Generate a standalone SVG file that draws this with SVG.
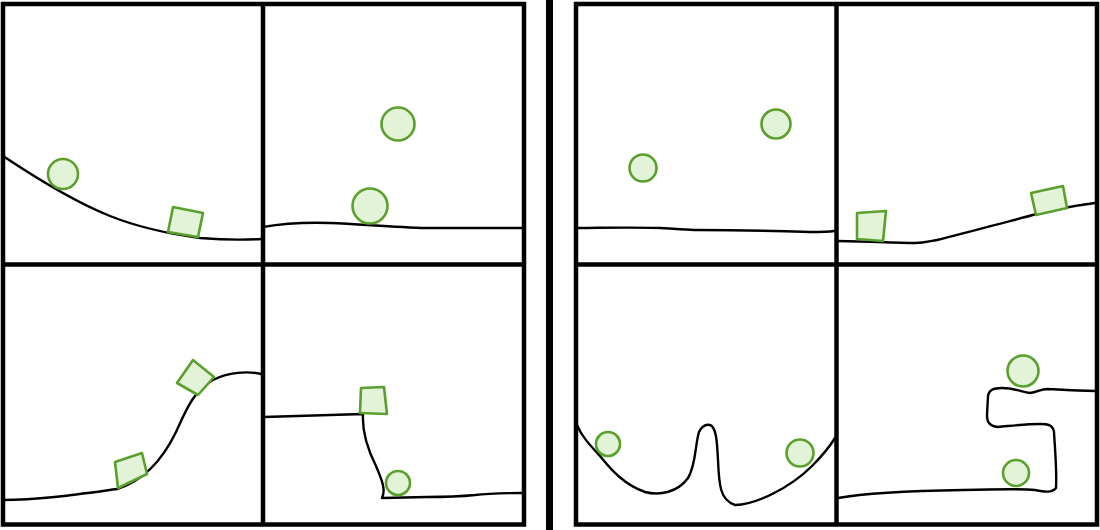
<svg xmlns="http://www.w3.org/2000/svg" width="1100" height="530" viewBox="0 0 1100 530">
<style>
.frame{fill:none;stroke:#000;stroke-width:4.5}
.ground{fill:none;stroke:#000;stroke-width:2.4;stroke-linejoin:round;stroke-linecap:round}
.body{fill:#e2f3d8;stroke:#5aa02c;stroke-width:2.6;stroke-linejoin:round}
</style>
<rect width="1100" height="530" fill="#fff"/>
<g id="frames">
<rect class="frame" x="3" y="4" width="521" height="520.5"/>
<line class="frame" x1="263" y1="4" x2="263" y2="524.5"/>
<line class="frame" x1="3" y1="264.5" x2="524" y2="264.5"/>
<rect class="frame" x="576" y="4" width="521" height="520.5"/>
<line class="frame" x1="836.5" y1="4" x2="836.5" y2="524.5"/>
<line class="frame" x1="576" y1="264.5" x2="1097" y2="264.5"/>
<rect x="546" y="0" width="7" height="530" fill="#000"/>
</g>
<g id="grounds">
<path class="ground" d="M3,156 C30,174 70,200 110,216 C140,228 170,234 200,238 C225,240 245,240 262,239"/>
<path class="ground" d="M263,227 C280,224 300,222 330,223 C360,224 390,227 427,228 C460,228 490,228 523,228"/>
<path class="ground" d="M3,500 C40,500 80,494 117,489 C140,482 160,465 176,432 C186,410 194,390 213,380 C228,372 248,371 261,374"/>
<path class="ground" d="M264,417 L363,414 C362,430 368,450 376,466 C382,480 386,490 382,498 L427,497 C450,497 465,496 475,495 C490,493 505,493 523,493"/>
<path class="ground" d="M577,228 C600,228 625,227 660,228 C680,229 688,230 697,230 C740,230 780,231 810,232 C820,232 828,232 834,231"/>
<path class="ground" d="M837,241 C860,241 895,243 915,243 C925,243 930,241 937,240 C970,232 1005,222 1037,214 C1060,208 1080,205 1095,203"/>
<path class="ground" d="M577,425 C582,437 590,445 600,456 C612,471 625,485 645,492 C660,496 678,492 688,478 C696,465 695,445 699,432 C702,426 706,424 710,425 C716,427 717,440 718,460 C719,485 720,500 735,505 C755,505 790,488 812,466 C822,456 830,446 835,438"/>
<path class="ground" d="M838,498 C860,494 900,491 963,490 C1000,489 1025,489 1035,490 C1045,492 1052,493 1056,488 C1057,470 1055,450 1054,432 C1053,425 1048,424 1040,424 C1025,424 1010,426 998,427 C990,426 987,423 987,415 L988,396 C989,390 993,388 1002,388 C1015,388 1022,392 1030,393 C1038,392 1040,389 1048,389 C1065,390 1080,391 1095,391"/>
</g>
<g id="bodies">
<circle class="body" cx="63" cy="174" r="15"/>
<polygon class="body" points="173,207 203,213 198,237 168,232"/>
<circle class="body" cx="398" cy="124" r="16.5"/>
<circle class="body" cx="370" cy="206" r="17.5"/>
<polygon class="body" points="115,462 142,453 147,474 118,488"/>
<polygon class="body" points="193,360 214,377 198,395 177,383"/>
<polygon class="body" points="361,388 384,387 387,414 360,413"/>
<circle class="body" cx="398" cy="483" r="12"/>
<circle class="body" cx="776" cy="124" r="14.5"/>
<circle class="body" cx="643" cy="168" r="13.5"/>
<polygon class="body" points="857,213 886,211 883,241 857,239"/>
<polygon class="body" points="1031,193 1063,186 1067,208 1036,215"/>
<circle class="body" cx="608" cy="444" r="12"/>
<circle class="body" cx="800" cy="453" r="13.5"/>
<circle class="body" cx="1023" cy="371" r="15.5"/>
<circle class="body" cx="1016" cy="473" r="13"/>
</g>
</svg>
